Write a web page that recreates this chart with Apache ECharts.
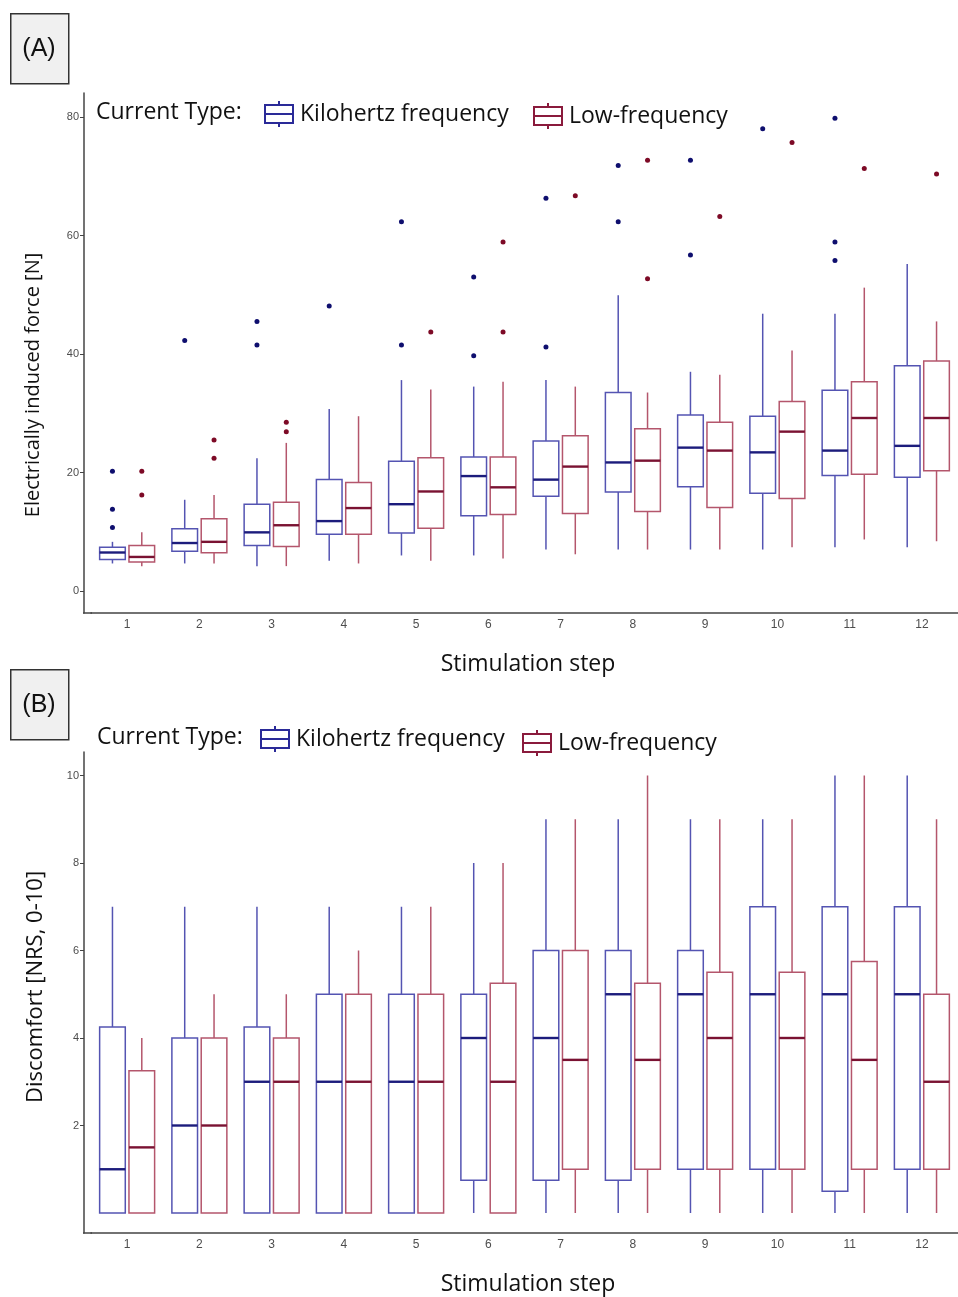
<!DOCTYPE html>
<html lang="en">
<head>
<meta charset="UTF-8">
<title>Force and discomfort per stimulation step</title>
<script src="https://cdn.jsdelivr.net/npm/echarts@6/dist/echarts.min.js"></script>
<style>
    html, body { margin: 0; background: #fff; }
    #myChart { width: 958px; height: 1297px; }
</style>
</head>
<body>
<div id="myChart"></div>
<script>
var steps = ['1', '2', '3', '4', '5', '6', '7', '8', '9', '10', '11', '12'];
var forceTicks = [0, 20, 40, 60, 80];
var discomfortTicks = [2, 4, 6, 8, 10];

// [min, q1, median, q3, max] per step
var forceKhz = [
    [4.65, 5.3, 6.5, 7.4, 8.3], [4.65, 6.7, 8.1, 10.5, 15.4], [4.2, 7.7, 9.9, 14.65, 22.4],
    [5.1, 9.6, 11.8, 18.8, 30.7], [6.0, 9.8, 14.65, 21.9, 35.6], [6.0, 12.7, 19.4, 22.6, 34.5],
    [7.0, 16.0, 18.8, 25.3, 35.6], [7.0, 16.7, 21.7, 33.5, 49.9], [7.0, 17.6, 24.2, 29.7, 37.0],
    [7.0, 16.5, 23.4, 29.5, 46.8], [7.4, 19.5, 23.7, 33.9, 46.8], [7.4, 19.2, 24.5, 38.0, 55.2]
];
var forceLow = [
    [4.2, 4.9, 5.75, 7.7, 9.9], [4.65, 6.45, 8.3, 12.2, 16.2], [4.2, 7.5, 11.1, 15.0, 25.0],
    [4.65, 9.6, 14.0, 18.3, 29.5], [5.1, 10.6, 16.8, 22.5, 34.0], [5.5, 12.9, 17.5, 22.6, 35.3],
    [6.2, 13.1, 21.0, 26.2, 34.5], [7.0, 13.4, 22.0, 27.4, 33.5], [7.0, 14.1, 23.7, 28.5, 36.5],
    [7.4, 15.6, 26.9, 32.0, 40.6], [8.7, 19.7, 29.2, 35.3, 51.2], [8.4, 20.3, 29.2, 38.8, 45.5]
];
// [step, value]
var forceKhzOut = [
    [1, 20.2], [1, 13.8], [1, 10.7], [2, 42.3], [3, 45.5], [3, 41.5], [4, 48.1],
    [5, 62.3], [5, 41.5], [6, 53.0], [6, 39.7], [7, 66.3], [7, 41.2], [8, 71.8], [8, 62.3],
    [9, 72.7], [9, 56.7], [10, 78.0], [11, 79.8], [11, 58.9], [11, 55.8]
];
var forceLowOut = [
    [1, 20.2], [1, 16.2], [2, 25.5], [2, 22.4], [3, 28.5], [3, 26.9], [5, 43.7],
    [6, 58.9], [6, 43.7], [7, 66.7], [8, 72.7], [8, 52.7], [9, 63.2], [10, 75.7],
    [11, 71.3], [12, 70.4]
];

var discKhz = [
    [0, 0, 1, 4.25, 7], [0, 0, 2, 4, 7], [0, 0, 3, 4.25, 7], [0, 0, 3, 5, 7],
    [0, 0, 3, 5, 7], [0, 0.75, 4, 5, 8], [0, 0.75, 4, 6, 9], [0, 0.75, 5, 6, 9],
    [0, 1, 5, 6, 9], [0, 1, 5, 7, 9], [0, 0.5, 5, 7, 10], [0, 1, 5, 7, 10]
];
var discLow = [
    [0, 0, 1.5, 3.25, 4], [0, 0, 2, 4, 5], [0, 0, 3, 4, 5], [0, 0, 3, 5, 6],
    [0, 0, 3, 5, 7], [0, 0, 3, 5.25, 8], [0, 1, 3.5, 6, 9], [0, 1, 3.5, 5.25, 10],
    [0, 1, 4, 5.5, 9], [0, 1, 4, 5.5, 9], [0, 1, 3.5, 5.75, 10], [0, 1, 3, 5, 9]
];

var KHZ = '#5454b2', KHZ_MED = '#1c1c7c', KHZ_DOT = '#0e0e6e';
var LOW = '#b4566c', LOW_MED = '#7a1232', LOW_DOT = '#7d0a26';
var SHIFT = 0.203, BOX_W = 0.355;
var FONT = '"Open Sans", Lato, sans-serif';

function withIndex(rows) {
    return rows.map(function (r, i) { return [i].concat(r); });
}
function outIndex(rows) {
    return rows.map(function (r) { return [r[0] - 1, r[1]]; });
}

function boxRenderer(shift, lineColor, medianColor) {
    return function (params, api) {
        var i = api.value(0);
        var band = api.size([1, 0])[0];
        var lo = api.coord([i, api.value(1)]);
        var q1 = api.coord([i, api.value(2)]);
        var md = api.coord([i, api.value(3)]);
        var q3 = api.coord([i, api.value(4)]);
        var hi = api.coord([i, api.value(5)]);
        var cx = lo[0] + shift * band;
        var w = band * BOX_W;
        var line = { stroke: lineColor, lineWidth: 1.5 };
        return {
            type: 'group',
            children: [
                { type: 'line', shape: { x1: cx, y1: hi[1], x2: cx, y2: q3[1] }, style: line },
                { type: 'line', shape: { x1: cx, y1: q1[1], x2: cx, y2: lo[1] }, style: line },
                { type: 'rect', shape: { x: cx - w / 2, y: q3[1], width: w, height: q1[1] - q3[1] },
                  style: { stroke: lineColor, lineWidth: 1.5, fill: '#fff' } },
                { type: 'line', shape: { x1: cx - w / 2, y1: md[1], x2: cx + w / 2, y2: md[1] },
                  style: { stroke: medianColor, lineWidth: 2.4 } }
            ]
        };
    };
}

function dotRenderer(shift, color) {
    return function (params, api) {
        var pt = api.coord([api.value(0), api.value(1)]);
        var band = api.size([1, 0])[0];
        return { type: 'circle', shape: { cx: pt[0] + shift * band, cy: pt[1], r: 2.5 }, style: { fill: color } };
    };
}

function xAxisFor(grid) {
    return {
        type: 'category', gridIndex: grid, data: steps,
        axisLine: { onZero: false, lineStyle: { color: '#444', width: 1.5 } },
        axisTick: { alignWithLabel: true, length: 4, lineStyle: { color: '#444' } },
        axisLabel: { color: '#4d4d4d', fontSize: 12, fontFamily: 'Liberation Sans', margin: 6 },
        splitLine: { show: false }
    };
}
function yAxisFor(grid, min, max, ticks) {
    return {
        type: 'value', gridIndex: grid, min: min, max: max, offset: 7,
        axisLine: { show: true, lineStyle: { color: '#444', width: 1.5 } },
        axisTick: { show: true, length: 4, customValues: ticks, lineStyle: { color: '#444' } },
        axisLabel: { customValues: ticks, color: '#4d4d4d', fontSize: 11, fontFamily: 'Liberation Sans', margin: 5 },
        splitLine: { show: false }
    };
}

var iconPath = 'path://M0,4 L28,4 L28,22 L0,22 Z M0,13 L28,13 M14,0 L14,4 M14,22 L14,26';
function legendItem(name, left, top, color) {
    return {
        left: left, top: top, itemWidth: 28, itemHeight: 26, padding: 0,
        data: [{ name: name, icon: iconPath, itemStyle: { color: '#fff', borderColor: color, borderWidth: 2 } }],
        textStyle: { fontSize: 23, fontFamily: FONT, color: '#111', padding: [0, 0, 0, 2] }
    };
}

function panelLabel(txt, top) {
    return [
        { type: 'rect', left: 10, top: top, shape: { width: 58, height: 70 },
          style: { fill: '#f0f0f0', stroke: '#333', lineWidth: 1.5 } },
        { type: 'text', x: 39, y: top + 36,
          style: { text: txt, font: '25px "Liberation Sans"', fill: '#111', textAlign: 'center', textVerticalAlign: 'middle' } }
    ];
}
function plainText(txt, x, y, size, rot) {
    return { type: 'text', x: x, y: y, rotation: rot || 0,
        style: { text: txt, font: size + 'px ' + FONT, fill: '#111', textAlign: 'center', textVerticalAlign: 'middle' } };
}
function leftText(txt, x, y) {
    return { type: 'text', x: x, y: y,
        style: { text: txt, font: '23px ' + FONT, fill: '#111', textAlign: 'left', textVerticalAlign: 'middle' } };
}

var myChart = echarts.init(document.getElementById('myChart'));
var option = {
    animation: false,
    backgroundColor: '#fff',
    grid: [
        { left: 91, top: 93, width: 869, height: 520 },
        { left: 91, top: 752, width: 869, height: 481 }
    ],
    xAxis: [xAxisFor(0), xAxisFor(1)],
    yAxis: [yAxisFor(0, -3.71, 84.05, forceTicks), yAxisFor(1, -0.457, 10.537, discomfortTicks)],
    legend: [
        legendItem('Kilohertz frequency', 264, 100, '#2a2a98'),
        legendItem('Low-frequency', 533, 102, '#8a1a3c'),
        legendItem('Kilohertz frequency', 260, 725, '#2a2a98'),
        legendItem('Low-frequency', 522, 729, '#8a1a3c')
    ],
    graphic: [].concat(
        panelLabel('(A)', 13),
        panelLabel('(B)', 669),
        [
            leftText('Current Type:', 96, 112),
            leftText('Current Type:', 97, 737),
            plainText('Electrically induced force [N]', 33, 385, 20, Math.PI / 2),
            plainText('Discomfort [NRS, 0-10]', 36, 987, 22, Math.PI / 2),
            plainText('Stimulation step', 528, 664, 23),
            plainText('Stimulation step', 528, 1284, 23),
            { type: 'line', shape: { x1: 83, y1: 613, x2: 92, y2: 613 }, style: { stroke: '#444', lineWidth: 1.5 } },
            { type: 'line', shape: { x1: 83, y1: 1233, x2: 92, y2: 1233 }, style: { stroke: '#444', lineWidth: 1.5 } }
        ]
    ),
    series: [
        { type: 'custom', name: 'Kilohertz frequency', xAxisIndex: 0, yAxisIndex: 0,
          renderItem: boxRenderer(-SHIFT, KHZ, KHZ_MED), data: withIndex(forceKhz), encode: { x: 0, y: [1, 2, 3, 4, 5] } },
        { type: 'custom', name: 'Low-frequency', xAxisIndex: 0, yAxisIndex: 0,
          renderItem: boxRenderer(SHIFT, LOW, LOW_MED), data: withIndex(forceLow), encode: { x: 0, y: [1, 2, 3, 4, 5] } },
        { type: 'custom', name: 'Kilohertz frequency', xAxisIndex: 0, yAxisIndex: 0,
          renderItem: dotRenderer(-SHIFT, KHZ_DOT), data: outIndex(forceKhzOut), encode: { x: 0, y: 1 } },
        { type: 'custom', name: 'Low-frequency', xAxisIndex: 0, yAxisIndex: 0,
          renderItem: dotRenderer(SHIFT, LOW_DOT), data: outIndex(forceLowOut), encode: { x: 0, y: 1 } },
        { type: 'custom', name: 'Kilohertz frequency', xAxisIndex: 1, yAxisIndex: 1,
          renderItem: boxRenderer(-SHIFT, KHZ, KHZ_MED), data: withIndex(discKhz), encode: { x: 0, y: [1, 2, 3, 4, 5] } },
        { type: 'custom', name: 'Low-frequency', xAxisIndex: 1, yAxisIndex: 1,
          renderItem: boxRenderer(SHIFT, LOW, LOW_MED), data: withIndex(discLow), encode: { x: 0, y: [1, 2, 3, 4, 5] } }
    ]
};
myChart.setOption(option);
</script>
</body>
</html>
